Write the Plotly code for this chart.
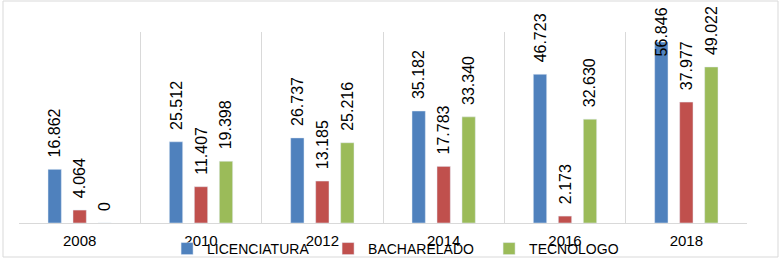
import plotly.graph_objects as go

years = ["2008", "2010", "2012", "2014", "2016", "2018"]
licenciatura = [16862, 25512, 26737, 35182, 46723, 56846]
bacharelado = [4064, 11407, 13185, 17783, 2173, 37977]
tecnologo = [0, 19398, 25216, 33340, 32630, 49022]

series = [
    ("LICENCIATURA", licenciatura, "#4F81BD"),
    ("BACHARELADO", bacharelado, "#C0504D"),
    ("TECNOLOGO", tecnologo, "#9BBB59"),
]

W, H = 783, 264
ml, mr, mt, mb = 19, 36, 32, 41
pw, ph = W - ml - mr, H - mt - mb
bargap, bargroupgap = 0.382, 0.466
label_font = dict(family="Liberation Sans, Arial", size=16, color="#000000")

pad = "\u00a0\u00a0"
fig = go.Figure()
for name, vals, color in series:
    tmpl = [pad + "%{y:,}"] * len(vals)
    if name == "LICENCIATURA":
        tmpl[-1] = ""  # label squeezed inside the chart area, drawn below
    fig.add_trace(go.Bar(
        name=name, x=years, y=vals, marker_color=color,
        texttemplate=tmpl, textposition="outside", textangle=-90,
        constraintext="none", cliponaxis=False, textfont=label_font,
    ))

# Label of the tallest bar: kept inside the chart area, overlapping the bar top
slot_px = (1 - bargap) / 3 * pw / len(years)
last = len(years) - 1
fig.add_annotation(
    x=last, y=licenciatura[last], text=f"{licenciatura[last]:,}".replace(",", "."),
    textangle=-90, showarrow=False, xshift=-slot_px, yanchor="middle", yshift=10,
    font=label_font,
)

fig.update_layout(
    width=W, height=H,
    margin=dict(l=ml, r=mr, t=mt, b=mb, autoexpand=False),
    paper_bgcolor="white", plot_bgcolor="white",
    barmode="group", bargap=bargap, bargroupgap=bargroupgap,
    separators=",.",
    font=dict(family="Liberation Sans, Arial", size=14, color="#000000"),
    legend=dict(orientation="h", x=0.2034, xanchor="left", y=-0.136, yanchor="middle",
                font=dict(size=14), bgcolor="rgba(0,0,0,0)", entrywidth=116,
                entrywidthmode="pixels"),
    showlegend=True,
    shapes=[dict(type="rect", xref="paper", yref="paper",
                 x0=(3 - ml) / pw, x1=(778 - ml) / pw,
                 y0=-(257 - (mt + ph)) / ph,
                 y1=(mt + ph - 1) / ph,
                 line=dict(color="#D9D9D9", width=1), layer="below")],
)
fig.update_xaxes(
    type="category", range=[-0.5, 5.5], showgrid=True, gridcolor="#D9D9D9", gridwidth=1,
    tickson="boundaries", ticks="", showline=True, linecolor="#D9D9D9",
    tickfont=dict(size=15, color="#000000"), ticklabelstandoff=4,
)
fig.update_yaxes(range=[0, 60000], visible=False, showgrid=False, zeroline=False)

fig.write_html("out.html", config={"displayModeBar": False},
               post_script="document.body.style.margin='0';")
